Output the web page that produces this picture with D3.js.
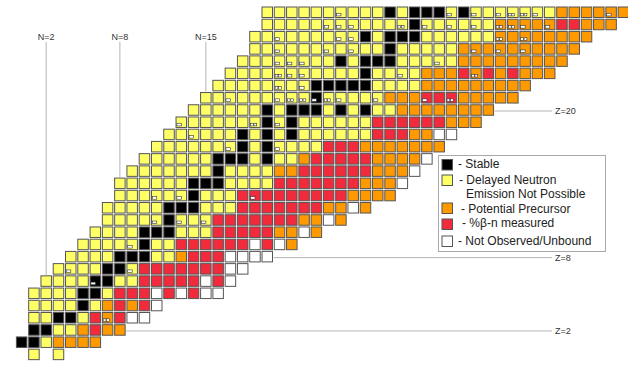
<!DOCTYPE html>
<html>
<head>
<meta charset="utf-8">
<script src="https://cdnjs.cloudflare.com/ajax/libs/d3/7.8.5/d3.min.js"></script>
<style>
  body { margin: 0; background: #fff; }
  svg { display: block; }
  text { font-family: Arial, "Liberation Sans", sans-serif; }
</style>
</head>
<body>
<svg width="628" height="372"></svg>
<script>

// K = stable, Y = no delayed neutron, O = potential precursor,
// R = %b-n measured, W = not observed/unbound, . = nothing
var protonNumbers = [0, 1, 2, 3, 4, 5, 6, 7, 8, 9, 10, 11, 12, 13, 14,
                     15, 16, 17, 18, 19, 20, 21, 22, 23, 24, 25, 26, 27, 28];

var firstNeutron = [1, 0, 1, 1, 1, 1, 2, 3, 4, 5, 6, 7, 7, 8, 8,
                    9, 10, 11, 12, 13, 14, 15, 16, 17, 18, 19, 19, 20, 20];

var rowStates = [
  "Y.Y",
  "KKYOOOO",
  "KKYYOROO",
  "YYKKYRORWW",
  "YYYYKYORORW",
  "YYYYKKYRRRWRWRWW",
  "YYYYKKYYRRRRRWRW",
  "YYYYKKYRRRRRRRWW",
  "YYYYKKKYYORRRWWWW",
  "YYYYYKYYRRRRRRWRWO",
  "YYYYKKKYYYRRRRROOWO",
  "YYYYYKYYYRRRRRRROOWO",
  "YYYYYKKKYYYRRRRRRROOWO",
  "YYYYYYKYYYRRRRRRRRROOOO",
  "YYYYYYKKKYYYYRRRRRRROOOW",
  "YYYYYYYKYYYYOORRRRRROOOW",
  "YYYYYYKKKYKYYORRRRROOOOW",
  "YYYYYYYKYKYYYYRRROOOOOOO",
  "YYYYYYKYKYKYYYYYYRRROOWW",
  "YYYYYYYKYKYYYYYYRRRRRROOO",
  "YYYYYYKYKKKYKYKYYOOOOOOOO",
  "YYYYYYYYYKYYYYYOOORRROOOOO",
  "YYYYYYYYKKKKKYYYYOOOOOOOOO",
  "YYYYYYYYYYYKYYYYOOOROROROOO",
  "YYYYYYYYKYKKKYYYYYOOOOOOOOO",
  "YYYYYYYYYYYKYYYYYOOOOOOOOOO",
  "YYYYYYYYYKYKKKYYYYYYOOOOOOOO",
  "YYYYYYYYYYYYKYYYYYYOOOOORROOO",
  "YYYYYYYYYYKYKKKYKYYYYYYYOOOOOO"
];

// isomer marks: [Z, N, how many]
var isomers = [
  [3, 7, 2], [6, 6, 1], [7, 4, 1], [7, 9, 1], [9, 9, 1],
  [11, 11, 1], [11, 13, 1], [11, 15, 1], [13, 11, 1], [13, 13, 1], [13, 19, 1],
  [17, 17, 1], [17, 21, 1], [18, 14, 1], [19, 13, 1], [19, 19, 2], [19, 21, 1],
  [21, 17, 1], [21, 21, 1], [21, 22, 2], [21, 23, 2], [21, 24, 1], [21, 25, 2],
  [21, 26, 1], [21, 29, 1], [21, 33, 1], [21, 35, 2],
  [22, 21, 2], [22, 23, 1], [23, 21, 2], [23, 22, 1], [23, 23, 1], [23, 31, 1], [23, 37, 2],
  [24, 21, 1], [24, 22, 1], [24, 23, 1], [24, 34, 1],
  [25, 21, 1], [25, 25, 1], [25, 27, 1], [25, 37, 1], [25, 39, 1], [25, 41, 1],
  [26, 21, 1], [26, 26, 1], [26, 27, 1], [26, 39, 2], [26, 41, 2],
  [27, 25, 1], [27, 26, 1], [27, 27, 1], [27, 31, 2], [27, 33, 1], [27, 35, 1],
  [27, 37, 1], [27, 39, 2], [27, 40, 2], [27, 41, 1], [27, 43, 1],
  [28, 26, 1], [28, 35, 1], [28, 37, 1], [28, 39, 1], [28, 40, 2], [28, 41, 2],
  [28, 42, 1], [28, 48, 1]
];

var magicN = [2, 8, 15];
var magicZ = [2, 8, 20];

var legendStates = ["K", "Y", "O", "R", "W"];
var legendLabels = [
  ["- Stable"],
  ["- Delayed Neutron", "Emission Not Possible"],
  ["- Potential Precursor"],
  ["- %\u03b2-n measured"],
  ["- Not Observed/Unbound"]
];

var color = d3.scaleOrdinal()
  .domain(["K", "Y", "O", "R", "W"])
  .range(["#000000", "#ffff66", "#ff9900", "#f22b3c", "#ffffff"]);

window.onload = () => {

  var svg = d3.select("svg");
  var size = 10.5;

  var x = d3.scaleLinear().domain([0, 50]).range([16.4, 16.4 + 12.28 * 50]);
  var y = d3.scaleLinear().domain([29, 0]).range([7, 7 + 12.22 * 29]);

  var cells = [];
  protonNumbers.forEach(function(z, i) {
    rowStates[i].split("").forEach(function(s, j) {
      if (s !== ".") cells.push({z: z, n: firstNeutron[i] + j, state: s});
    });
  });

  //###############################################
  // guide lines
  //###############################################

  var guides = svg.append("g");

  magicN.forEach(function(n) {
    var topZ = d3.max(cells.filter(function(c) { return c.n === n; }), function(c) { return c.z; });
    var cx = x(n) + size / 2;
    guides.append("line")
      .attr("x1", cx).attr("x2", cx)
      .attr("y1", 42).attr("y2", y(topZ + 1) - 1)
      .attr("stroke", "#b4b4b4").attr("stroke-width", 1);
    guides.append("text")
      .attr("x", cx).attr("y", 40)
      .attr("text-anchor", "middle")
      .attr("font-size", 9).attr("fill", "#333")
      .text("N=" + n);
  });

  magicZ.forEach(function(z) {
    var lastN = d3.max(cells.filter(function(c) { return c.z === z; }), function(c) { return c.n; });
    var cy = y(z + 1) + size / 2 + 1;
    guides.append("line")
      .attr("x1", x(lastN) + size + 1).attr("x2", 552)
      .attr("y1", cy).attr("y2", cy)
      .attr("stroke", "#b4b4b4").attr("stroke-width", 1);
    guides.append("text")
      .attr("x", 555).attr("y", cy + 3)
      .attr("font-size", 9).attr("fill", "#333")
      .text("Z=" + z);
  });

  //###############################################
  // cells
  //###############################################

  svg.append("g")
    .selectAll("rect")
    .data(cells)
    .enter().append("rect")
      .attr("x", function(d) { return x(d.n); })
      .attr("y", function(d) { return y(d.z + 1); })
      .attr("width", size)
      .attr("height", size)
      .attr("fill", function(d) { return color(d.state); })
      .attr("stroke", "#555")
      .attr("stroke-width", 1);

  var marks = [];
  isomers.forEach(function(m) {
    for (var k = 0; k < m[2]; k++) marks.push({z: m[0], n: m[1], k: k, count: m[2]});
  });

  svg.append("g")
    .selectAll("rect")
    .data(marks)
    .enter().append("rect")
      .attr("x", function(d) { return x(d.n) + 0.8 + d.k * 3.4; })
      .attr("y", function(d) { return y(d.z + 1) + size - 4.2; })
      .attr("width", function(d) { return d.count > 1 ? 2.8 : 4.5; })
      .attr("height", 2.6)
      .attr("fill", "#fff")
      .attr("stroke", "#333")
      .attr("stroke-width", 0.6);

  //###############################################
  // legend
  //###############################################

  var legend = svg.append("g");
  legend.append("rect")
    .attr("x", 438.5).attr("y", 155.5)
    .attr("width", 167).attr("height", 96)
    .attr("fill", "#fff").attr("stroke", "#aaa");

  var boxY = [159.5, 175, 203, 219, 236];
  var textX = [458, 459, 461, 462, 458];
  var baseY = [168, 183.5, 213, 227, 245];

  legendStates.forEach(function(s, i) {
    legend.append("rect")
      .attr("x", 442).attr("y", boxY[i])
      .attr("width", size).attr("height", size)
      .attr("fill", color(s)).attr("stroke", "#555");
    legendLabels[i].forEach(function(t, j) {
      legend.append("text")
        .attr("x", j === 0 ? textX[i] : 466)
        .attr("y", baseY[i] + j * 14)
        .attr("font-size", 12).attr("fill", "#222")
        .text(t);
    });
  });

}

</script>
</body>
</html>
